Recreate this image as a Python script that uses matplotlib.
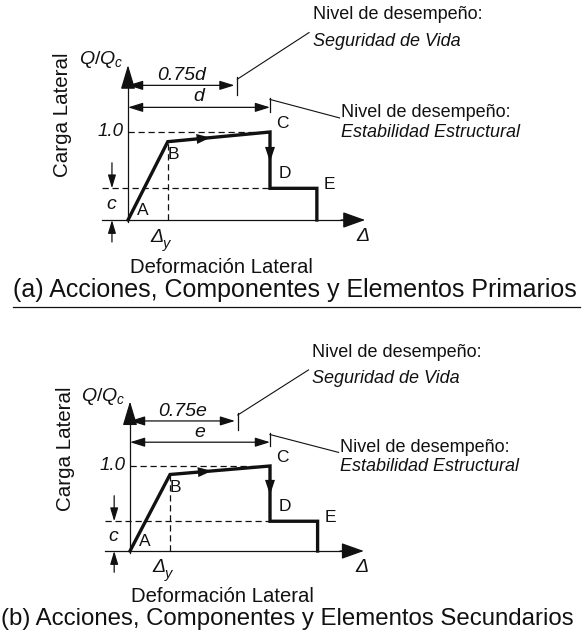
import matplotlib
matplotlib.use("Agg")
import matplotlib.pyplot as plt

plt.rcParams['font.family'] = ['Liberation Sans', 'DejaVu Sans']
plt.rcParams['mathtext.fontset'] = 'custom'
plt.rcParams['mathtext.rm'] = 'Liberation Sans'
plt.rcParams['mathtext.it'] = 'Liberation Sans:italic'

W, H = 583, 637

# backbone curve, normalised (x in units of d / e, y in Q/Qc)
curve_pts = ['A', 'B', 'C', 'D', 'E']
a_curve_x = [0.0, 0.28, 1.0, 1.0, 1.33, 1.33]
a_curve_y = [0.0, 0.89, 1.0, 0.36, 0.36, 0.0]
b_curve_x = [0.0, 0.286, 1.0, 1.0, 1.34, 1.34]
b_curve_y = [0.0, 0.90, 1.0, 0.35, 0.35, 0.0]
ls_frac = 0.75          # life safety limit, fraction of d (or e)
dim_names = ['d', 'e']
captions = ['(a) Acciones, Componentes y Elementos Primarios',
            '(b) Acciones, Componentes y Elementos Secundarios']

INK = '#111111'


def arrow(ax, tail, tip, hl=0.8, hw=0.3, ms=10, lw=0.9):
    ax.annotate('', xy=tip, xytext=tail,
                arrowprops=dict(arrowstyle=f'-|>,head_length={hl},head_width={hw}',
                                color=INK, lw=lw, shrinkA=0, shrinkB=0,
                                mutation_scale=ms))


def dim_line(ax, x0, x1, y):
    ax.annotate('', xy=(x1, y), xytext=(x0, y),
                arrowprops=dict(arrowstyle='<|-|>,head_length=0.9,head_width=0.28',
                                color=INK, lw=0.9, shrinkA=0, shrinkB=0,
                                mutation_scale=10))


def draw_panel(fig, ox, oy, sx, sy, cx, cy, dname, caption, cap_x, cap_fs):
    ax = fig.add_axes([0, 0, 1, 1])
    ax.set_xlim(-ox / sx, (W - ox) / sx)
    ax.set_ylim(-(H - oy) / sy, oy / sy)
    ax.axis('off')
    ax.patch.set_alpha(0)

    xb, yb = cx[1], cy[1]
    xc = cx[2]
    c_res = cy[3]
    xe = cx[4]

    # axes
    ax.plot([-0.18, 1.55], [0, 0], color=INK, lw=0.9)
    arrow(ax, (1.5, 0), (1.67, 0), hl=1.4, hw=0.5, ms=10)
    ax.plot([0, 0], [-0.02, 1.6], color=INK, lw=0.9)
    arrow(ax, (0, 1.55), (0, 1.76), hl=1.5, hw=0.45, ms=10)

    # dashed guides
    dash = dict(color=INK, lw=0.9, ls=(0, (5, 3)))
    ax.plot([0, xc], [1.0, 1.0], **dash)
    ax.plot([-0.18, xc], [c_res, c_res], **dash)
    ax.plot([xb, xb], [0, yb], **dash)

    # backbone
    ax.plot(cx, cy, color=INK, lw=2.4, solid_joinstyle='miter')
    mx = (xb + xc) / 2 - 0.06
    slope = (1.0 - yb) / (xc - xb)
    my = yb + slope * (mx - xb)
    arrow(ax, (mx - 0.06, my - 0.06 * slope), (mx, my),
          hl=1.1, hw=0.4, ms=9, lw=0)
    arrow(ax, (xc, 0.85), (xc, 0.66), hl=1.2, hw=0.4, ms=9, lw=0)

    # c dimension
    arrow(ax, (-0.113, 0.65), (-0.113, c_res), hl=1.0, hw=0.3, ms=8)
    arrow(ax, (-0.113, -0.25), (-0.113, 0), hl=1.0, hw=0.3, ms=8)

    # dimension lines
    dim_line(ax, 0, ls_frac * xc, 1.53)
    dim_line(ax, 0, xc, 1.28)
    ax.plot([ls_frac * xc + 0.02] * 2, [1.42, 1.62], color=INK, lw=0.9)
    ax.plot([xc] * 2, [1.23, 1.39], color=INK, lw=0.9)

    # leaders to performance levels
    ax.plot([ls_frac * xc + 0.02, 1.275], [1.60, 2.13], color=INK, lw=0.8)
    ax.plot([xc, 1.49], [1.37, 1.16], color=INK, lw=0.8)
    ax.text(1.30, 2.33, 'Nivel de desempeño:', fontsize=13, color=INK, va='center')
    ax.text(1.30, 2.03, 'Seguridad de Vida', fontsize=13, style='italic',
            color=INK, va='center')
    ax.text(1.50, 1.22, 'Nivel de desempeño:', fontsize=13, color=INK, va='center')
    ax.text(1.50, 0.99, 'Estabilidad Estructural', fontsize=13, style='italic',
            color=INK, va='center')

    # labels
    ax.text(ls_frac * xc / 2, 1.64, f'0.75{dname}', fontsize=14, style='italic',
            color=INK, ha='center', va='center')
    ax.text(xc / 2, 1.40, dname, fontsize=14, style='italic',
            color=INK, ha='center', va='center')
    ax.text(-0.035, 1.0, '1.0', fontsize=13.5, style='italic',
            color=INK, ha='right', va='center')
    ax.text(-0.035, 1.82, r'$Q/Q_c$', fontsize=14, color=INK, ha='right', va='center')
    ax.text(-0.113, c_res / 2, r'$c$', fontsize=14, color=INK, ha='center', va='center')
    ax.text(-0.46, 1.2, 'Carga Lateral', fontsize=14.8, color=INK, rotation=90,
            ha='center', va='center')
    ax.text(xb - 0.03, -0.20, 'Δ', fontsize=14, style='italic', color=INK,
            ha='right', va='center')
    ax.text(xb - 0.035, -0.27, 'y', fontsize=10.5, style='italic', color=INK,
            ha='left', va='center')
    ax.text(1.655, -0.19, 'Δ', fontsize=14, style='italic', color=INK,
            ha='center', va='center')
    ax.text(0.66, -0.54, 'Deformación Lateral', fontsize=14.6, color=INK,
            ha='center', va='center')

    offs = [(0.105, 0.11), (xb + 0.04, yb - 0.15), (xc + 0.09, 1.1),
            (xc + 0.105, c_res + 0.17), (xe + 0.09, c_res + 0.04)]
    for name, (tx, ty) in zip(curve_pts, offs):
        ax.text(tx, ty, name, fontsize=12.5, color=INK, ha='center', va='center')

    ax.text(cap_x, -0.80, caption, fontsize=cap_fs, color=INK, ha='left', va='center')
    return ax


fig = plt.figure(figsize=(W / 100, H / 100), dpi=100)
fig.patch.set_facecolor('white')

ax_a = draw_panel(fig, 128, 220, 142, 88, a_curve_x, a_curve_y,
                  dim_names[0], captions[0], -0.81, 18)
ax_a.plot([-0.81, 3.18], [-0.99, -0.99], color=INK, lw=0.9)
draw_panel(fig, 130, 551, 140, 85, b_curve_x, b_curve_y,
           dim_names[1], captions[1], -0.92, 17.3)

fig.savefig('out.png', dpi=100, facecolor='white')
